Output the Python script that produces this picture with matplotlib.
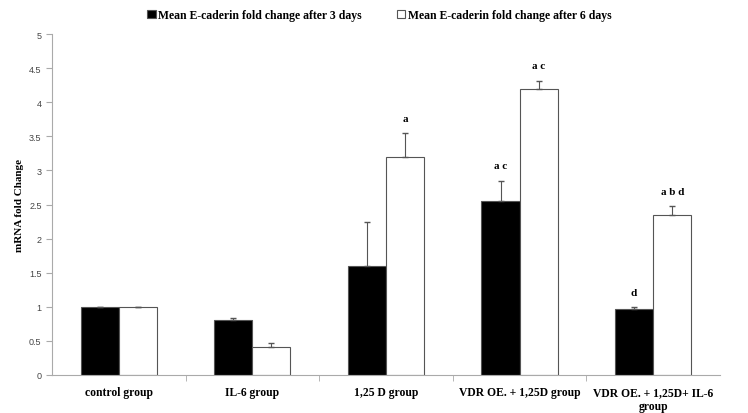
import numpy as np
import matplotlib.pyplot as plt

groups = ['control group', 'IL-6 group', '1,25 D group', 'VDR OE. + 1,25D group',
          'VDR OE. + 1,25D+ IL-6\ngroup']
day3 = [1.0, 0.81, 1.6, 2.55, 0.97]
day3_err = [0.0, 0.02, 0.65, 0.3, 0.03]
day6 = [1.0, 0.41, 3.2, 4.2, 2.34]
day6_err = [0.0, 0.06, 0.35, 0.12, 0.14]
day3_labels = ['', '', '', 'a c', 'd']
day6_labels = ['', '', 'a', 'a c', 'a b d']

serif = 'Liberation Serif'
fig = plt.figure(figsize=(7.48, 4.14), dpi=100)
ax = fig.add_axes([0.0695, 0.092, 0.893, 0.823])

x = np.arange(len(groups))
w = 0.285
edge = '#555555'
ax.bar(x - w / 2, day3, w, color='black', edgecolor=edge, linewidth=0.8,
       label='Mean E-caderin fold change after 3 days', zorder=2)
ax.bar(x + w / 2, day6, w, color='white', edgecolor=edge, linewidth=0.8,
       label='Mean E-caderin fold change after 6 days', zorder=2)
ax.errorbar(x - w / 2, day3, yerr=[np.zeros(len(x)), day3_err], fmt='none',
            ecolor=edge, elinewidth=0.8, capsize=2, zorder=3)
ax.errorbar(x + w / 2, day6, yerr=[np.zeros(len(x)), day6_err], fmt='none',
            ecolor=edge, elinewidth=0.8, capsize=2, zorder=3)

for i in range(len(x)):
    if day3_labels[i]:
        ax.text(x[i] - w / 2, day3[i] + day3_err[i] + 0.15, day3_labels[i],
                ha='center', va='bottom', family=serif, fontweight='bold', fontsize=8)
    if day6_labels[i]:
        ax.text(x[i] + w / 2, day6[i] + day6_err[i] + 0.15, day6_labels[i],
                ha='center', va='bottom', family=serif, fontweight='bold', fontsize=8)

ax.set_xlim(-0.5, len(groups) - 0.5)
ax.set_ylim(0, 5)
ax.set_yticks(np.arange(0, 5.01, 0.5))
ax.set_yticklabels(['0', '0.5', '1', '1.5', '2', '2.5', '3', '3.5', '4', '4.5', '5'])
ax.set_xticks(x)
ax.set_xticklabels(groups, family=serif, fontweight='bold', fontsize=8.4)
ax.set_xticks(np.arange(0.5, len(groups) - 0.5, 1), minor=True)
ax.tick_params(axis='x', which='major', length=0, pad=8)
ax.tick_params(axis='x', which='minor', length=4, color='#aaaaaa')
ax.tick_params(axis='y', length=4, color='#aaaaaa', labelsize=6.5, labelcolor='#444444')
for lab in ax.get_yticklabels():
    lab.set_family('Liberation Sans')

for s in ['top', 'right']:
    ax.spines[s].set_visible(False)
for s in ['left', 'bottom']:
    ax.spines[s].set_color('#aaaaaa')

ax.set_ylabel('mRNA fold Change', family=serif, fontweight='bold', fontsize=8)

ax.legend(loc='center', bbox_to_anchor=(0.49, 1.056), ncol=2, frameon=False,
          prop={'family': serif, 'weight': 'bold', 'size': 8.5},
          handlelength=0.7, handleheight=0.7, handletextpad=0.2, columnspacing=3)

plt.savefig('out.png')
